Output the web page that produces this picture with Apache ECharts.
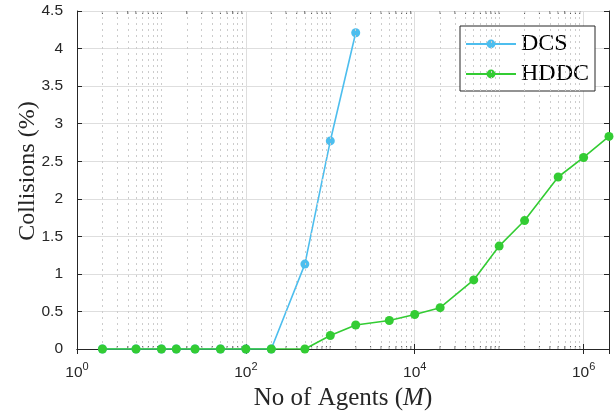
<!DOCTYPE html>
<html>
<head>
<meta charset="utf-8">
<script src="https://cdn.jsdelivr.net/npm/echarts@6/dist/echarts.min.js"></script>
<style>html,body{margin:0;padding:0;background:#fff}#c{width:616px;height:411px}</style>
</head>
<body>
<div id="c"></div>
<script>
// ---- data ----
var agents = [2, 5, 10, 15, 25, 50, 100, 200, 500, 1000, 2000, 5000, 10000, 20000, 50000, 100000, 200000, 500000, 1000000, 2000000];
var dcsValues = [0, 0, 0, 0, 0, 0, 0, 0, 1.13, 2.77, 4.21];
var hddcValues = [0, 0, 0, 0, 0, 0, 0, 0, 0, 0.18, 0.32, 0.38, 0.46, 0.55, 0.92, 1.37, 1.71, 2.29, 2.55, 2.83];
var seriesNames = ['DCS', 'HDDC'];
var xMin = 1, xMax = 2000000;
var yMin = 0, yMax = 4.5, yStep = 0.5;
var xTitle = 'No of Agents (';
var xTitleVar = 'M';
var yTitle = 'Collisions (%)';

// minor positions (2..9 x 10^k and odd decades)
var minorX = [];
for (var k = 0; k <= 6; k++) {
  for (var m = 1; m <= 9; m++) {
    var v = m * Math.pow(10, k);
    if (m === 1 && k % 2 === 0) continue;
    if (v > xMin && v < xMax) minorX.push(v);
  }
}

var axisColor = '#262626';
var sans = 'Liberation Sans, Arial, sans-serif';
var serif = 'Liberation Serif, Times New Roman, serif';
var blue = '#4DBEEE';
var green = '#33CC33';

function pairs(xs, ys) { return ys.map(function (y, i) { return [xs[i], y]; }); }

var chart = echarts.init(document.getElementById('c'), null, {renderer: 'canvas'});
chart.setOption({
  animation: false,
  backgroundColor: '#fff',
  grid: {left: 77, right: 7, top: 11, bottom: 62, containLabel: false, outerBoundsMode: 'none'},
  legend: {
    data: seriesNames,
    orient: 'vertical',
    left: 460, top: 26,
    padding: [6, 6, 5, 5],
    itemWidth: 50, itemHeight: 11, itemGap: 6,
    backgroundColor: '#fff',
    borderColor: axisColor, borderWidth: 1,
    textStyle: {fontFamily: serif, fontSize: 24, color: '#000', padding: [0, 0, 0, 0]}
  },
  xAxis: [{
    type: 'log', logBase: 100, min: xMin, max: xMax,
    name: '{r|' + xTitle + '}{i|' + xTitleVar + '}{r|)}',
    nameLocation: 'middle', nameGap: 37, nameMoveOverlap: false,
    nameTextStyle: {rich: {
      r: {fontFamily: serif, fontSize: 25, color: '#262626'},
      i: {fontFamily: serif, fontSize: 25, fontStyle: 'italic', color: '#262626'}
    }},
    axisLine: {show: true, lineStyle: {color: axisColor, width: 1}},
    axisTick: {show: true, inside: true, length: 5, lineStyle: {color: axisColor}},
    axisLabel: {
      margin: 12, showMaxLabel: false,
      formatter: function (v) {
        var e = Math.log10(v), r = Math.round(e);
        if (Math.abs(e - r) > 1e-6) return '';
        return '{b|10}{s|' + r + '}';
      },
      rich: {
        b: {fontFamily: sans, fontSize: 15.5, color: axisColor, lineHeight: 20, verticalAlign: 'bottom'},
        s: {fontFamily: sans, fontSize: 11, color: axisColor, lineHeight: 12, verticalAlign: 'top'}
      }
    },
    splitLine: {show: true, lineStyle: {color: '#dedede', width: 1}}
  }, {
    type: 'log', logBase: 100, min: xMin, max: xMax, position: 'top',
    axisLine: {show: true, lineStyle: {color: axisColor, width: 1}},
    axisTick: {show: true, inside: true, length: 5, lineStyle: {color: axisColor}},
    axisLabel: {show: false},
    splitLine: {show: false}
  }],
  yAxis: [{
    type: 'value', min: yMin, max: yMax, interval: yStep,
    name: yTitle, nameLocation: 'middle', nameGap: 37, nameMoveOverlap: false,
    nameTextStyle: {fontFamily: serif, fontSize: 24, color: '#262626', padding: [0, 0, 0, 18]},
    axisLine: {show: true, lineStyle: {color: axisColor, width: 1}},
    axisTick: {show: true, inside: true, length: 5, lineStyle: {color: axisColor}},
    axisLabel: {margin: 14, fontFamily: sans, fontSize: 15.5, color: axisColor},
    splitLine: {show: true, lineStyle: {color: '#dedede', width: 1}}
  }, {
    type: 'value', min: yMin, max: yMax, interval: yStep, position: 'right',
    axisLine: {show: true, lineStyle: {color: axisColor, width: 1}},
    axisTick: {show: true, inside: true, length: 5, lineStyle: {color: axisColor}},
    axisLabel: {show: false},
    splitLine: {show: false}
  }],
  series: [{
    type: 'line', data: [], silent: true, z: 1,
    markLine: {
      silent: true, symbol: ['none', 'none'], label: {show: false}, animation: false,
      lineStyle: {color: '#cccccc', type: [2, 4], width: 1},
      data: minorX.map(function (v) { return {xAxis: v}; })
    }
  }, {
    type: 'scatter', silent: true, z: 3, clip: false,
    symbol: 'rect', symbolSize: [1, 3], symbolOffset: [0, -1.5],
    itemStyle: {color: axisColor},
    data: minorX.map(function (v) { return [v, yMin]; })
  }, {
    type: 'scatter', silent: true, z: 3, clip: false,
    symbol: 'rect', symbolSize: [1, 3], symbolOffset: [0, 1.5],
    itemStyle: {color: axisColor},
    data: minorX.map(function (v) { return [v, yMax]; })
  }, {
    name: seriesNames[0], type: 'line', z: 4,
    data: pairs(agents, dcsValues),
    symbol: 'circle', symbolSize: 9, showSymbol: true,
    lineStyle: {color: blue, width: 1.6},
    itemStyle: {color: blue}
  }, {
    name: seriesNames[1], type: 'line', z: 5,
    data: pairs(agents, hddcValues),
    symbol: 'circle', symbolSize: 9, showSymbol: true,
    lineStyle: {color: green, width: 1.6},
    itemStyle: {color: green}
  }]
});
</script>
</body>
</html>
